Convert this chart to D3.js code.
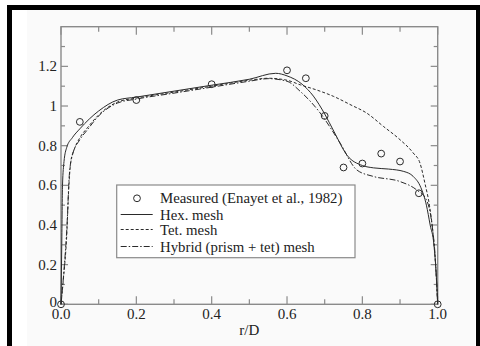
<!DOCTYPE html>
<html><head><meta charset="utf-8">
<script src="https://cdn.jsdelivr.net/npm/d3@7"></script>
<style>body{margin:0;background:#fff}svg{display:block}</style>
</head><body>
<svg id="c" width="480" height="346"></svg>
<script>
// ---- data ----
const measuredX = [0, 0.05, 0.2, 0.4, 0.6, 0.65, 0.7, 0.75, 0.8, 0.85, 0.9, 0.95, 1.0];
const measuredY = [0, 0.92, 1.03, 1.11, 1.18, 1.14, 0.95, 0.69, 0.71, 0.76, 0.72, 0.56, 0];

const hexX = [0, 0.002, 0.004, 0.008, 0.015, 0.03, 0.05, 0.1, 0.15, 0.2, 0.3, 0.4, 0.5, 0.57, 0.6, 0.64, 0.67, 0.7, 0.725, 0.76, 0.8, 0.83, 0.87, 0.91, 0.935, 0.955, 0.97, 0.98, 0.99, 0.997, 1.0];
const hexY = [0, 0.3, 0.6, 0.72, 0.79, 0.84, 0.885, 0.975, 1.03, 1.045, 1.075, 1.105, 1.135, 1.165, 1.152, 1.11, 1.05, 0.96, 0.87, 0.75, 0.7, 0.688, 0.682, 0.67, 0.645, 0.59, 0.5, 0.4, 0.3, 0.12, 0];

const tetX = [0, 0.006, 0.015, 0.021, 0.026, 0.035, 0.05, 0.07, 0.1, 0.15, 0.2, 0.3, 0.4, 0.5, 0.55, 0.6, 0.635, 0.68, 0.723, 0.77, 0.811, 0.856, 0.9, 0.935, 0.953, 0.966, 0.978, 0.988, 0.995, 1.0];
const tetY = [0, 0.12, 0.34, 0.6, 0.72, 0.78, 0.84, 0.89, 0.955, 1.02, 1.04, 1.07, 1.1, 1.13, 1.14, 1.13, 1.107, 1.08, 1.049, 1.005, 0.965, 0.897, 0.83, 0.763, 0.712, 0.611, 0.5, 0.35, 0.18, 0];

const hybX = [0, 0.007, 0.016, 0.022, 0.03, 0.05, 0.07, 0.1, 0.15, 0.2, 0.3, 0.4, 0.5, 0.55, 0.6, 0.635, 0.688, 0.741, 0.785, 0.829, 0.9, 0.944, 0.97, 0.985, 0.993, 1.0];
const hybY = [0, 0.15, 0.4, 0.65, 0.75, 0.83, 0.88, 0.95, 1.015, 1.035, 1.065, 1.095, 1.125, 1.138, 1.125, 1.074, 0.965, 0.813, 0.678, 0.645, 0.619, 0.577, 0.527, 0.4, 0.25, 0];

const xTicks = [0, 0.2, 0.4, 0.6, 0.8, 1.0];
const xTickLabels = ["0.0", "0.2", "0.4", "0.6", "0.8", "1.0"];
const yTicks = [0, 0.2, 0.4, 0.6, 0.8, 1.0, 1.2];
const yTickLabels = ["0", "0.2", "0.4", "0.6", "0.8", "1", "1.2"];
const legendLabels = ["Measured (Enayet et al., 1982)", "Hex. mesh", "Tet. mesh", "Hybrid (prism + tet) mesh"];
const xLabel = "r/D";

// ---- layout ----
const svg = d3.select("#c");
const L = 61, R = 437.7, T = 26.7, B = 304.3;
const x = d3.scaleLinear().domain([0, 1]).range([L, R]);
const y = d3.scaleLinear().domain([0, 1.4]).range([B, T]);
const font = "'Liberation Serif','Times New Roman',serif";
const frameCol = "#8a8a8a";
const lineCol = "#2a2a2a";

// page frame
svg.append("rect").attr("x", 27).attr("y", 10).attr("width", 448).attr("height", 336).attr("fill", "#fafafa");
svg.append("rect").attr("x", 7).attr("y", 5).attr("width", 473).attr("height", 5).attr("fill", "#000");
svg.append("rect").attr("x", 7).attr("y", 5).attr("width", 5).attr("height", 341).attr("fill", "#000");
svg.append("rect").attr("x", 476).attr("y", 5).attr("width", 4).attr("height", 341).attr("fill", "#000");

// ticks
const minorX = d3.range(0.1, 1.0, 0.2);
const minorY = d3.range(0.1, 1.4, 0.2);
const tk = svg.append("g").attr("stroke", frameCol).attr("stroke-width", 1.2);
xTicks.forEach(v => {
  tk.append("line").attr("x1", x(v)).attr("x2", x(v)).attr("y1", B).attr("y2", B - 8);
  tk.append("line").attr("x1", x(v)).attr("x2", x(v)).attr("y1", T).attr("y2", T + 8);
});
minorX.forEach(v => {
  tk.append("line").attr("x1", x(v)).attr("x2", x(v)).attr("y1", B).attr("y2", B - 5);
  tk.append("line").attr("x1", x(v)).attr("x2", x(v)).attr("y1", T).attr("y2", T + 5);
});
yTicks.forEach(v => {
  tk.append("line").attr("x1", L).attr("x2", L + 7).attr("y1", y(v)).attr("y2", y(v));
  tk.append("line").attr("x1", R).attr("x2", R - 7).attr("y1", y(v)).attr("y2", y(v));
});
minorY.forEach(v => {
  tk.append("line").attr("x1", L).attr("x2", L + 4).attr("y1", y(v)).attr("y2", y(v));
  tk.append("line").attr("x1", R).attr("x2", R - 4).attr("y1", y(v)).attr("y2", y(v));
});
svg.append("rect").attr("x", L).attr("y", T).attr("width", R - L).attr("height", B - T)
  .attr("fill", "none").attr("stroke", frameCol).attr("stroke-width", 1.4);

// tick labels
const tl = svg.append("g").attr("font-family", font).attr("font-size", 15).attr("fill", "#222");
xTicks.forEach((v, i) => {
  tl.append("text").attr("x", x(v)).attr("y", B + 15).attr("text-anchor", "middle").text(xTickLabels[i]);
});
yTicks.forEach((v, i) => {
  tl.append("text").attr("x", L - 4).attr("y", y(v) + (v === 0 ? 3 : 5)).attr("text-anchor", "end").text(yTickLabels[i]);
});
tl.append("text").attr("x", x(0.5)).attr("y", B + 31).attr("text-anchor", "middle").text(xLabel);

// curves
const line = d3.line().x(d => x(d[0])).y(d => y(d[1])).curve(d3.curveMonotoneX);
const series = [
  {xs: hexX, ys: hexY, dash: null},
  {xs: tetX, ys: tetY, dash: "3,2"},
  {xs: hybX, ys: hybY, dash: "6,2,1.5,2"}
];
series.forEach(s => {
  svg.append("path").datum(s.xs.map((v, i) => [v, s.ys[i]]))
    .attr("d", line).attr("fill", "none").attr("stroke", lineCol).attr("stroke-width", 1)
    .attr("stroke-dasharray", s.dash);
});

// measured points
svg.append("g").selectAll("circle").data(measuredX.map((v, i) => [v, measuredY[i]]))
  .join("circle").attr("cx", d => x(d[0])).attr("cy", d => y(d[1])).attr("r", 3.4)
  .attr("fill", "none").attr("stroke", lineCol).attr("stroke-width", 1);

// legend
const lg = svg.append("g");
lg.append("rect").attr("x", 116.7).attr("y", 185).attr("width", 238.3).attr("height", 72.7)
  .attr("fill", "#fff").attr("stroke", frameCol).attr("stroke-width", 1.2);
const rowY = [198.3, 214.5, 229.5, 246.5];
lg.append("circle").attr("cx", 137).attr("cy", rowY[0]).attr("r", 3.4)
  .attr("fill", "none").attr("stroke", lineCol).attr("stroke-width", 1);
[null, "3,2", "6,2,1.5,2"].forEach((d, i) => {
  lg.append("line").attr("x1", 120.7).attr("x2", 152.7).attr("y1", rowY[i + 1]).attr("y2", rowY[i + 1])
    .attr("stroke", lineCol).attr("stroke-width", 1).attr("stroke-dasharray", d);
});
legendLabels.forEach((t, i) => {
  lg.append("text").attr("x", 160).attr("y", rowY[i] + 5).attr("font-family", font).attr("font-size", 14.8)
    .attr("fill", "#222").text(t);
});
</script>
</body></html>
